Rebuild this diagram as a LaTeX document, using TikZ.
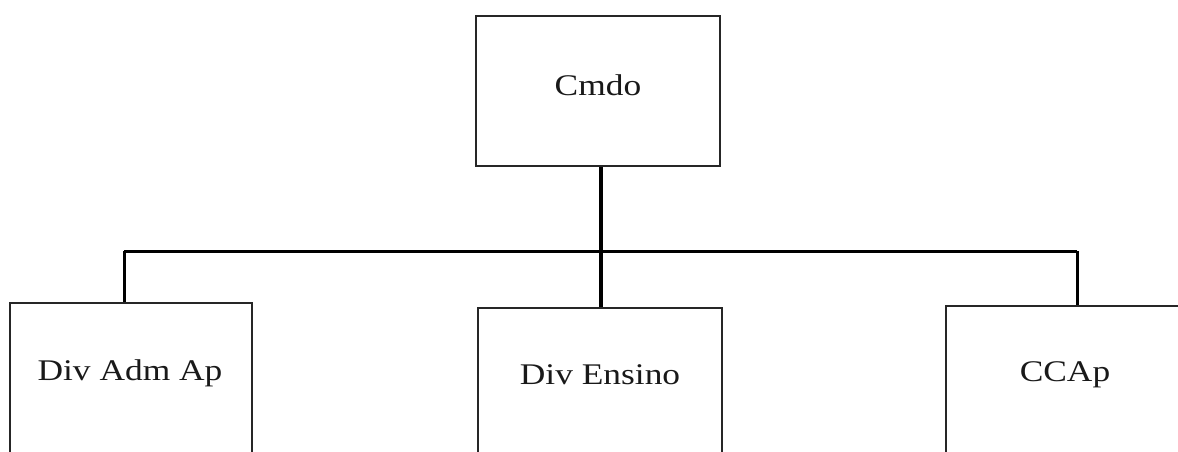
\documentclass[tikz,border=0pt]{standalone}
\usepackage{fontspec}
\setmainfont{Liberation Serif}
\begin{document}
\begin{tikzpicture}[x=0.5pt,y=-0.5pt,
  box/.style={draw=black!85,line width=0.8pt,rectangle,inner sep=0pt,fill=none},
  lbl/.style={font=\fontsize{15}{18}\selectfont,inner sep=0pt,text=black!90},
  conn/.style={draw=black,line width=1.5pt},
  trunk/.style={draw=black,line width=2pt}]
\useasboundingbox (0,0) rectangle (1178,451);
\clip (0,0) rectangle (1178,451);
\fill[white] (0,0) rectangle (1178,451);
% boxes
\node[box,minimum width=244*0.5pt,minimum height=150*0.5pt] (cmdo) at (598,91) {};
\node[box,minimum width=242*0.5pt,minimum height=200*0.5pt] (adm) at (131,403) {};
\node[box,minimum width=244*0.5pt,minimum height=200*0.5pt] (ens) at (600,408) {};
\node[box,minimum width=244*0.5pt,minimum height=200*0.5pt] (ccap) at (1068,406) {};
% labels
\node[lbl] (cmdot) at (598,85) {\scalebox{1.18}[1]{Cmdo}};
\node[lbl] (admt) at (130,373) {\scalebox{1.18}[1]{Div Adm Ap}};
\node[lbl] (enst) at (600,375) {\scalebox{1.18}[1]{Div Ensino}};
\node[lbl] (ccapt) at (1065,375) {\scalebox{1.18}[1]{CCAp}};
% connectors
\coordinate (bus) at (601,251);
\coordinate (busl) at (124,251);
\coordinate (busr) at (1077,251);
\draw[conn] (busl) -- (busr);
\draw[trunk] (cmdo.south -| bus) -- (ens.north -| bus);
\draw[conn] (busl) -- (adm.north -| busl);
\draw[conn] (busr) -- (ccap.north -| busr);
\end{tikzpicture}
\end{document}
